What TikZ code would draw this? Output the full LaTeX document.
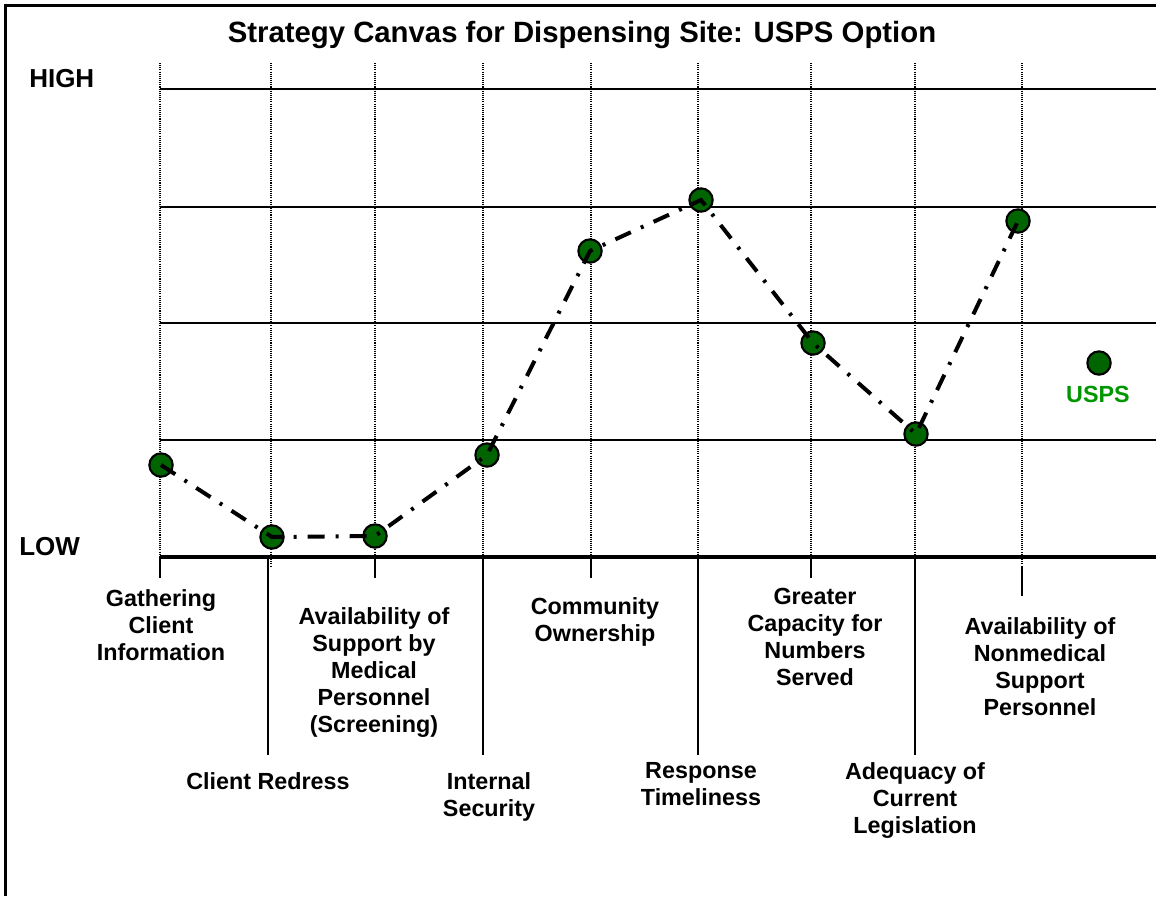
\documentclass[tikz,border=0pt]{standalone}
\usepackage{fontspec}
\setmainfont{Liberation Sans}
\definecolor{dotgreen}{RGB}{0,100,0}
\definecolor{lblgreen}{RGB}{0,150,0}
\begin{document}
\begin{tikzpicture}[x=0.75pt,y=-0.75pt,
  lbl/.style={anchor=north,inner sep=0pt,align=center,font=\fontsize{17.5}{20.25}\selectfont\bfseries},
  big/.style={anchor=base,inner sep=0pt,font=\fontsize{19.5}{23}\selectfont\bfseries},
  dotpt/.style={circle,draw=black,line width=1.6pt,fill=dotgreen,minimum size=17.5pt,inner sep=0pt},
  trend/.style={line width=3pt,dash pattern=on 12.75pt off 8.25pt on 2.25pt off 8.25pt},
  gridl/.style={line width=2pt},
  axisl/.style={line width=2.4pt},
  vdot/.style={line width=0.9pt,dash pattern=on 0.8pt off 0.8pt,black},
  tickl/.style={line width=2.1pt},
  frame/.style={line width=1.7pt}]
\useasboundingbox (0,0) rectangle (1156,896);
% frame (only top and left visible)
\draw[frame] (5.5,896) -- (5.5,5.5) -- (1156,5.5);
% title
\node[anchor=base,inner sep=0pt,font=\fontsize{22}{26}\selectfont\bfseries] (title) at (582,42) {Strategy Canvas for Dispensing Site: USPS Option};
\node[big,anchor=base west] (high) at (29,87) {HIGH};
\node[big,anchor=base west] (low) at (19,555) {LOW};
% vertical dotted lines
\foreach \x in {160,271,375,483,591,698,811,915,1022}
  \draw[vdot] (\x,63) -- (\x,557);
\draw[vdot] (271,557) -- (271,566);
\draw[vdot] (1022,557) -- (1022,566);
% horizontal grid lines
\foreach \y in {89,207,323,440}
  \draw[gridl] (160,\y) -- (1156,\y);
\draw[axisl] (160,557) -- (1156,557);
% ticks
\foreach \x in {160,375,591,811}
  \draw[tickl] (\x,557) -- (\x,578);
\foreach \x in {268,483,698,915}
  \draw[tickl] (\x,557) -- (\x,755);
\draw[line width=1.3pt] (1022,566) -- (1022,596);
% labels
\node[lbl] (l1) at (161,589) {Gathering\\Client\\Information};
\node[lbl] (l2) at (268,772) {Client Redress};
\node[lbl] (l3) at (374,607) {Availability of\\Support by\\Medical\\Personnel\\(Screening)};
\node[lbl] (l4) at (489,772) {Internal\\Security};
\node[lbl] (l5) at (595,597) {Community\\Ownership};
\node[lbl] (l6) at (701,762) {Response\\Timeliness};
\node[lbl] (l7) at (815,588) {Greater\\Capacity for\\Numbers\\Served};
\node[lbl] (l8) at (915,762) {Adequacy of\\Current\\Legislation};
\node[lbl] (l9) at (1040,617) {Availability of\\Nonmedical\\Support\\Personnel};
% data points
\node[dotpt] (p1) at (161,465) {};
\node[dotpt] (p2) at (272,537) {};
\node[dotpt] (p3) at (375,536) {};
\node[dotpt] (p4) at (487,455) {};
\node[dotpt] (p5) at (590,251) {};
\node[dotpt] (p6) at (701,200) {};
\node[dotpt] (p7) at (813,343) {};
\node[dotpt] (p8) at (916,434) {};
\node[dotpt] (p9) at (1018,221) {};
\draw[trend] (p1.center) -- (p2.center) -- (p3.center) -- (p4.center) -- (p5.center) -- (p6.center) -- (p7.center) -- (p8.center) -- (p9.center);
% legend
\node[dotpt] (legdot) at (1099,363) {};
\node[anchor=base,inner sep=0pt,text=lblgreen,font=\fontsize{17.5}{20}\selectfont\bfseries] (legtxt) at (1098,402) {USPS};
\end{tikzpicture}
\end{document}
